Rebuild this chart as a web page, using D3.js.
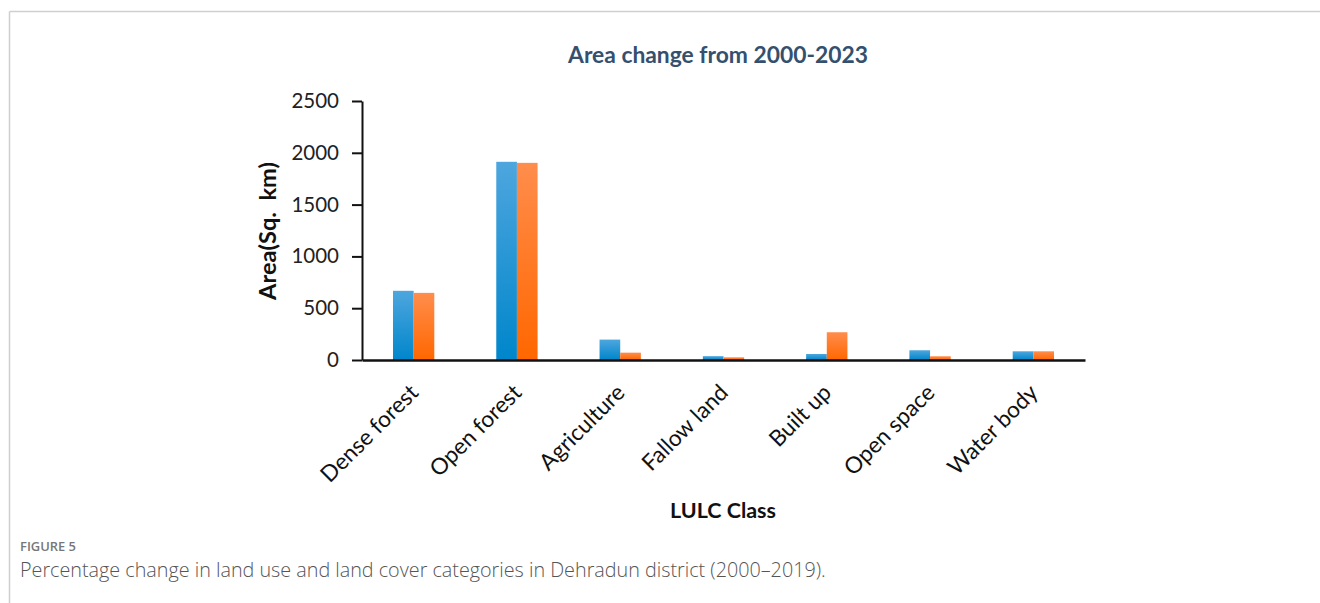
<!DOCTYPE html>
<html>
<head>
<meta charset="utf-8">
<script src="https://cdn.jsdelivr.net/npm/d3@7/dist/d3.min.js"></script>
<style>
  html, body { margin: 0; padding: 0; background: #fff; }
  svg { display: block; }
</style>
</head>
<body>
<svg id="chart" width="1320" height="603"></svg>
<script>
// LULC classes and area (sq. km) for the two years
const categories = ["Dense forest", "Open forest", "Agriculture", "Fallow land", "Built up", "Open space", "Water body"];
const seriesNames = ["2000", "2023"];
const area2000 = [668, 1913, 197, 37, 58, 94, 84];
const area2023 = [648, 1903, 71, 26, 268, 36, 84];
const yTicks = [0, 500, 1000, 1500, 2000, 2500];

const titleText = "Area change from 2000-2023";
const yTitleText = "Area(Sq.  km)";
const xTitleText = "LULC Class";
const figLabel = "FIGURE 5";
const captionText = "Percentage change in land use and land cover categories in Dehradun district (2000\u20132019).";

const svg = d3.select("#chart");
const fontMain = "Lato, 'Open Sans', sans-serif";
const fontCaption = "'Open Sans', 'Noto Sans', sans-serif";

// page frame (top and left rule)
svg.append("line").attr("x1", 9.5).attr("x2", 1320).attr("y1", 11.5).attr("y2", 11.5)
  .attr("stroke", "#cfcfcf").attr("stroke-width", 1.5);
svg.append("line").attr("x1", 9.5).attr("x2", 9.5).attr("y1", 11.5).attr("y2", 603)
  .attr("stroke", "#cfcfcf").attr("stroke-width", 1.5);

// scale a text's font size so that it spans the given length
function fitText(sel, target) {
  const node = sel.node();
  const fs = parseFloat(sel.attr("font-size"));
  const w = node.getComputedTextLength();
  if (w > 0) sel.attr("font-size", (fs * target / w).toFixed(2));
  return sel;
}

const plot = { left: 362, right: 1085, top: 101, bottom: 360 };

const x0 = d3.scaleBand().domain(categories)
  .range([plot.left, plot.right]).paddingInner(0.6).paddingOuter(0.3);
const x1 = d3.scaleBand().domain(seriesNames).range([0, x0.bandwidth()]);
const y = d3.scaleLinear().domain([0, 2500]).range([plot.bottom, plot.top]);

// gradients for the bars
const defs = svg.append("defs");
const gradSpecs = [
  { id: "g2000", top: "#4ea6de", bottom: "#0086cb" },
  { id: "g2023", top: "#ff8d4c", bottom: "#ff6700" }
];
gradSpecs.forEach(g => {
  const lg = defs.append("linearGradient").attr("id", g.id)
    .attr("x1", 0).attr("y1", 0).attr("x2", 0).attr("y2", 1);
  lg.append("stop").attr("offset", "0%").attr("stop-color", g.top);
  lg.append("stop").attr("offset", "100%").attr("stop-color", g.bottom);
});

const rows = categories.map((c, i) => ({ cat: c, vals: [area2000[i], area2023[i]] }));

const groups = svg.append("g").selectAll("g").data(rows).join("g")
  .attr("transform", d => `translate(${x0(d.cat)},0)`);
groups.selectAll("rect")
  .data(d => d.vals.map((v, j) => ({ key: seriesNames[j], v })))
  .join("rect")
  .attr("x", d => x1(d.key))
  .attr("width", x1.bandwidth())
  .attr("y", d => y(d.v))
  .attr("height", d => y(0) - y(d.v))
  .attr("fill", d => d.key === "2000" ? "url(#g2000)" : "url(#g2023)");

// y axis
const yAxis = d3.axisLeft(y).tickValues(yTicks).tickFormat(d3.format("d"))
  .tickSize(10).tickPadding(13).tickSizeOuter(0);
const gy = svg.append("g").attr("transform", `translate(${plot.left},0)`).call(yAxis);
gy.select(".domain").attr("stroke", "#111").attr("stroke-width", 2);
gy.selectAll(".tick line").attr("stroke", "#111").attr("stroke-width", 2);
gy.selectAll(".tick text").attr("font-family", fontMain).attr("font-size", 20.5).attr("fill", "#222");

// x axis baseline
const xAxis = d3.axisBottom(x0).tickSize(0).tickSizeOuter(0).tickFormat("");
const gx = svg.append("g").attr("transform", `translate(0,${plot.bottom})`).call(xAxis);
gx.select(".domain").attr("stroke", "#111").attr("stroke-width", 2.5);

// rotated category labels, sized so "Dense forest" spans its diagonal
const catLabels = svg.append("g").selectAll("text").data(categories).join("text")
  .attr("transform", d => `translate(${x0(d) + x0.bandwidth() / 2 + 6},${plot.bottom + 34}) rotate(-45)`)
  .attr("text-anchor", "end")
  .attr("font-family", fontMain).attr("font-size", 21).attr("fill", "#111")
  .text(d => d);
const probe = catLabels.filter((d, i) => i === 0).node().getComputedTextLength();
catLabels.attr("font-size", (21 * 127 / probe).toFixed(2));

// titles
fitText(svg.append("text").attr("x", 718).attr("y", 63).attr("text-anchor", "middle")
  .attr("font-family", fontMain).attr("font-weight", 700).attr("font-size", 22)
  .attr("fill", "#34506e").text(titleText), 300);

fitText(svg.append("text").attr("transform", "translate(276,231) rotate(-90)")
  .attr("text-anchor", "middle").attr("font-family", fontMain).attr("font-weight", 700)
  .attr("font-size", 20).attr("fill", "#111").style("white-space", "pre")
  .text(yTitleText), 138);

fitText(svg.append("text").attr("x", 723).attr("y", 518).attr("text-anchor", "middle")
  .attr("font-family", fontMain).attr("font-weight", 700).attr("font-size", 20)
  .attr("fill", "#111").text(xTitleText), 106);

// figure caption
fitText(svg.append("text").attr("x", 20).attr("y", 551)
  .attr("font-family", fontCaption).attr("font-weight", 600).attr("font-size", 12)
  .attr("fill", "#777").text(figLabel), 56);
fitText(svg.append("text").attr("x", 20).attr("y", 577)
  .attr("font-family", fontCaption).attr("font-weight", 300)
  .attr("font-size", 15).attr("fill", "#555").text(captionText), 806);
</script>
</body>
</html>
